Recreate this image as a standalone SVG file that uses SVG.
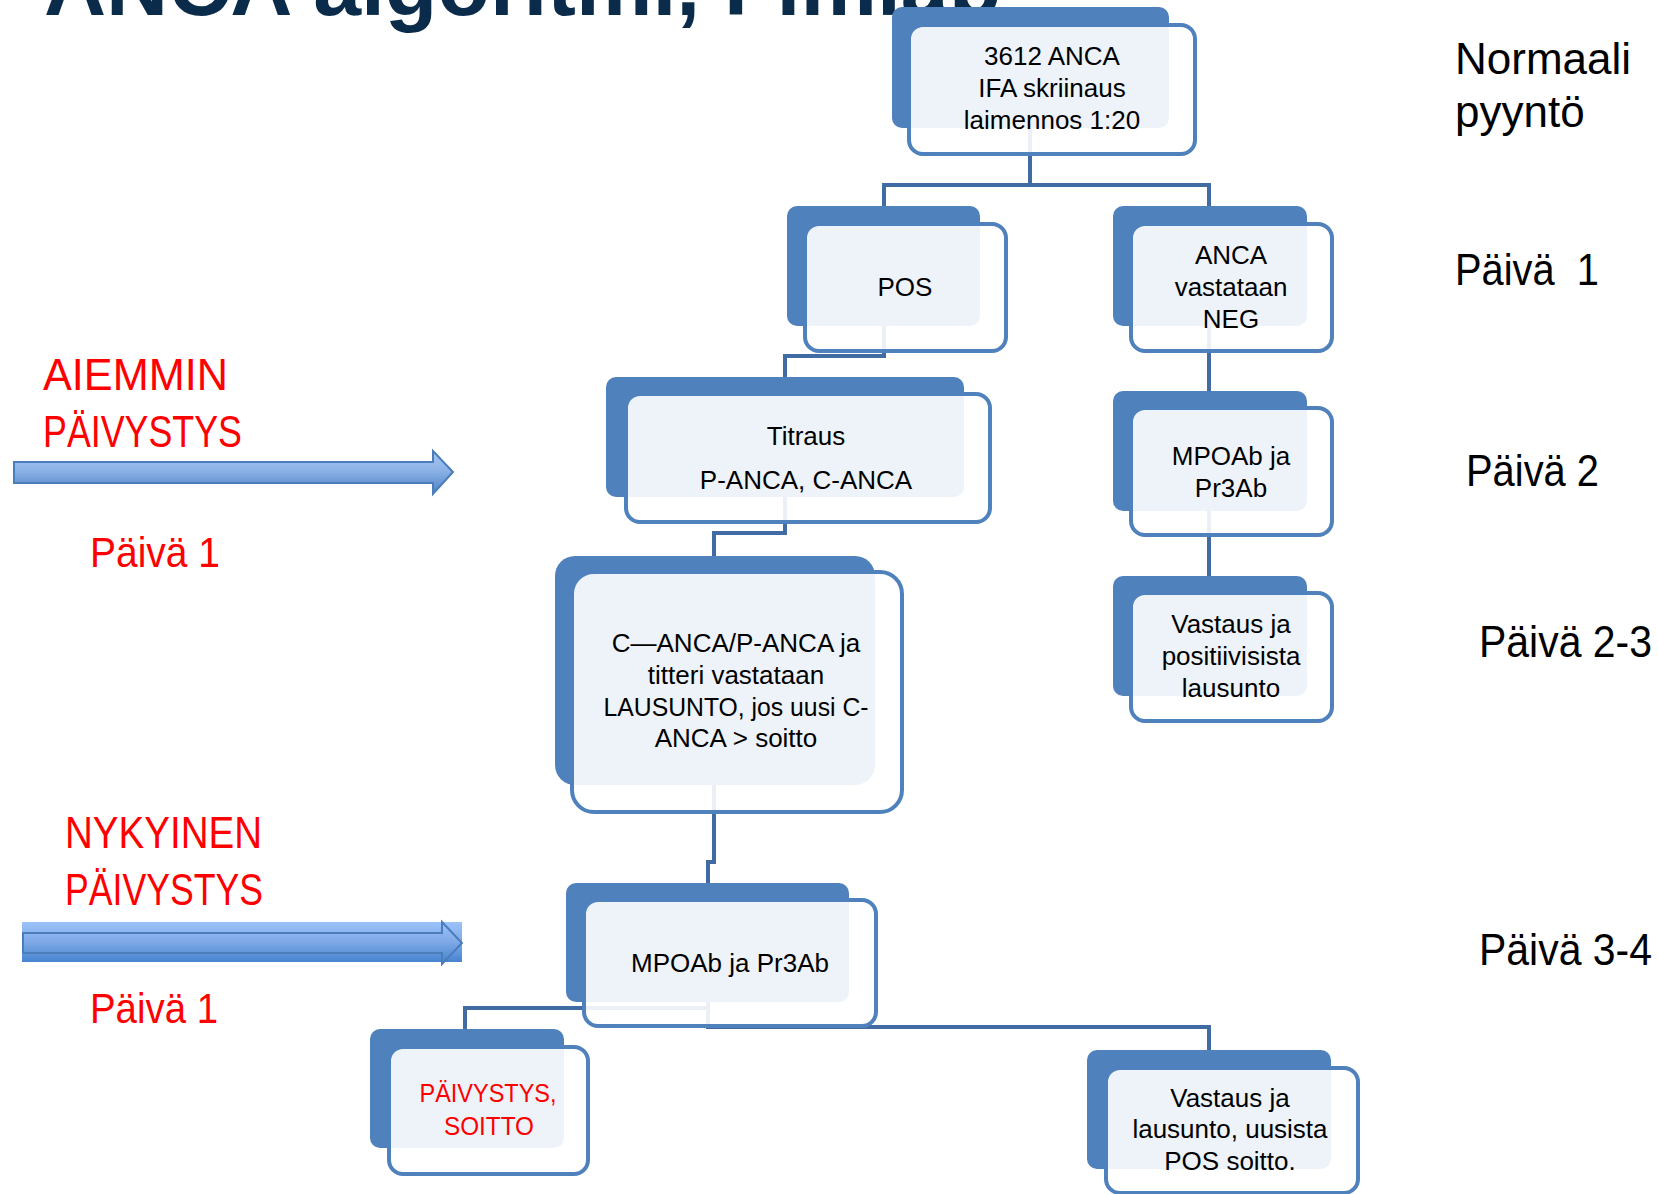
<svg xmlns="http://www.w3.org/2000/svg" width="1658" height="1194" viewBox="0 0 1658 1194">
<defs>
<linearGradient id="ga" x1="0" y1="0" x2="0" y2="1">
<stop offset="0" stop-color="#a6c6f2"/>
<stop offset="0.45" stop-color="#8cb2e6"/>
<stop offset="1" stop-color="#4c81c5"/>
</linearGradient>
<linearGradient id="gb" x1="0" y1="0" x2="0" y2="1">
<stop offset="0" stop-color="#9cc2fa"/>
<stop offset="0.5" stop-color="#7ea9e6"/>
<stop offset="1" stop-color="#4784d0"/>
</linearGradient>
<style>
.back{fill:#4F81BD}
.front{fill:#ffffff;fill-opacity:0.9;stroke:#4F81BD;stroke-width:4}
.conn{fill:none;stroke:#416CA3;stroke-width:4}
.t{font-family:"Liberation Sans",Arial,sans-serif;font-size:26px;fill:#000;text-anchor:middle}
.tr{fill:#FF0000}
.lbl{font-family:"Liberation Sans",Arial,sans-serif;font-size:44px;fill:#FF0000}
.day{font-family:"Liberation Sans",Arial,sans-serif;font-size:44px;fill:#000;white-space:pre}
.title{font-family:"Liberation Sans",Arial,sans-serif;font-size:86px;font-weight:bold;fill:#0A2C4A}
.arrow{stroke:#4A7DBA;stroke-width:2}
</style>
</defs>

<text class="title" x="44" y="15">ANCA algoritmi, Fimlab</text>

<g id="labels-left">
<text class="lbl" x="43" y="390" textLength="185" lengthAdjust="spacingAndGlyphs">AIEMMIN</text>
<text class="lbl" x="43" y="447" textLength="199" lengthAdjust="spacingAndGlyphs">PÄIVYSTYS</text>
<path class="arrow" fill="url(#ga)" d="M14,462 H433 V451 L453,472 L433,494 V483 H14 Z"/>
<text class="lbl" x="90" y="567" textLength="130" lengthAdjust="spacingAndGlyphs" style="font-size:42px">Päivä 1</text>
<text class="lbl" x="65" y="848" textLength="197" lengthAdjust="spacingAndGlyphs">NYKYINEN</text>
<text class="lbl" x="65" y="905" textLength="198" lengthAdjust="spacingAndGlyphs">PÄIVYSTYS</text>
<rect x="22" y="922" width="440" height="40" fill="url(#gb)"/>
<path class="arrow" fill="none" d="M23,933 H442 V922 L462,943 L442,964 V953 H23 Z"/>
<text class="lbl" x="90" y="1023" textLength="128" lengthAdjust="spacingAndGlyphs" style="font-size:42px">Päivä 1</text>
</g>

<g id="labels-right">
<text class="day" x="1455" y="74">Normaali</text>
<text class="day" x="1455" y="127">pyyntö</text>
<text class="day" x="1455" y="285" textLength="144" lengthAdjust="spacingAndGlyphs">Päivä  1</text>
<text class="day" x="1466" y="486" textLength="133" lengthAdjust="spacingAndGlyphs">Päivä 2</text>
<text class="day" x="1479" y="657" textLength="173" lengthAdjust="spacingAndGlyphs">Päivä 2-3</text>
<text class="day" x="1479" y="965" textLength="173" lengthAdjust="spacingAndGlyphs">Päivä 3-4</text>
</g>

<g id="connectors">
<path class="conn" d="M1030,128 V185 M884,206 V185 H1209 V206"/>
<path class="conn" d="M884,326 V356 H785 V377"/>
<path class="conn" d="M785,497 V533 H714 V557"/>
<path class="conn" d="M714,785 V862 H708 V883"/>
<path class="conn" d="M1209,326 V391"/>
<path class="conn" d="M1209,511 V576"/>
<path class="conn" d="M708,1002 V1008 H465 V1029"/>
<path class="conn" d="M708,1002 V1027 H1209 V1050"/>
</g>

<g id="node-anca">
<rect class="back" x="892" y="7" width="277" height="121" rx="10"/>
<rect class="front" x="909" y="25" width="286" height="129" rx="14"/>
<text class="t" x="1052" y="65">3612 ANCA</text>
<text class="t" x="1052" y="97">IFA skriinaus</text>
<text class="t" x="1052" y="129">laimennos 1:20</text>
</g>

<g id="node-pos">
<rect class="back" x="787" y="206" width="193" height="120" rx="10"/>
<rect class="front" x="805" y="224" width="201" height="127" rx="14"/>
<text class="t" x="905" y="296">POS</text>
</g>

<g id="node-neg">
<rect class="back" x="1113" y="206" width="194" height="120" rx="10"/>
<rect class="front" x="1131" y="224" width="201" height="127" rx="14"/>
<text class="t" x="1231" y="264">ANCA</text>
<text class="t" x="1231" y="296">vastataan</text>
<text class="t" x="1231" y="328">NEG</text>
</g>

<g id="node-titraus">
<rect class="back" x="606" y="377" width="358" height="120" rx="10"/>
<rect class="front" x="626" y="394" width="364" height="128" rx="14"/>
<text class="t" x="806" y="445">Titraus</text>
<text class="t" x="806" y="489">P-ANCA, C-ANCA</text>
</g>

<g id="node-mpo-right">
<rect class="back" x="1113" y="391" width="194" height="120" rx="10"/>
<rect class="front" x="1131" y="408" width="201" height="127" rx="14"/>
<text class="t" x="1231" y="465">MPOAb ja</text>
<text class="t" x="1231" y="497">Pr3Ab</text>
</g>

<g id="node-vastaus-pos">
<rect class="back" x="1113" y="576" width="194" height="120" rx="10"/>
<rect class="front" x="1131" y="593" width="201" height="128" rx="14"/>
<text class="t" x="1231" y="633">Vastaus ja</text>
<text class="t" x="1231" y="665">positiivisista</text>
<text class="t" x="1231" y="697">lausunto</text>
</g>

<g id="node-canca">
<rect class="back" x="555" y="556" width="320" height="229" rx="20"/>
<rect class="front" x="572" y="572" width="330" height="240" rx="22"/>
<text class="t" x="736" y="652">C—ANCA/P-ANCA ja</text>
<text class="t" x="736" y="684">titteri vastataan</text>
<text class="t" x="736" y="716" textLength="265" lengthAdjust="spacingAndGlyphs">LAUSUNTO, jos uusi C-</text>
<text class="t" x="736" y="747">ANCA &gt; soitto</text>
</g>

<g id="node-mpo-bottom">
<rect class="back" x="566" y="883" width="283" height="119" rx="10"/>
<rect class="front" x="584" y="900" width="292" height="126" rx="14"/>
<text class="t" x="730" y="972">MPOAb ja Pr3Ab</text>
</g>

<g id="node-paivystys">
<rect class="back" x="370" y="1029" width="194" height="119" rx="10"/>
<rect class="front" x="389" y="1047" width="199" height="127" rx="14"/>
<text class="t tr" x="488" y="1102" textLength="137" lengthAdjust="spacingAndGlyphs">PÄIVYSTYS,</text>
<text class="t tr" x="489" y="1135" textLength="90" lengthAdjust="spacingAndGlyphs">SOITTO</text>
</g>

<g id="node-vastaus-uusi">
<rect class="back" x="1087" y="1050" width="244" height="119" rx="10"/>
<rect class="front" x="1106" y="1068" width="252" height="125" rx="14"/>
<text class="t" x="1230" y="1107">Vastaus ja</text>
<text class="t" x="1230" y="1138">lausunto, uusista</text>
<text class="t" x="1230" y="1170">POS soitto.</text>
</g>
</svg>
